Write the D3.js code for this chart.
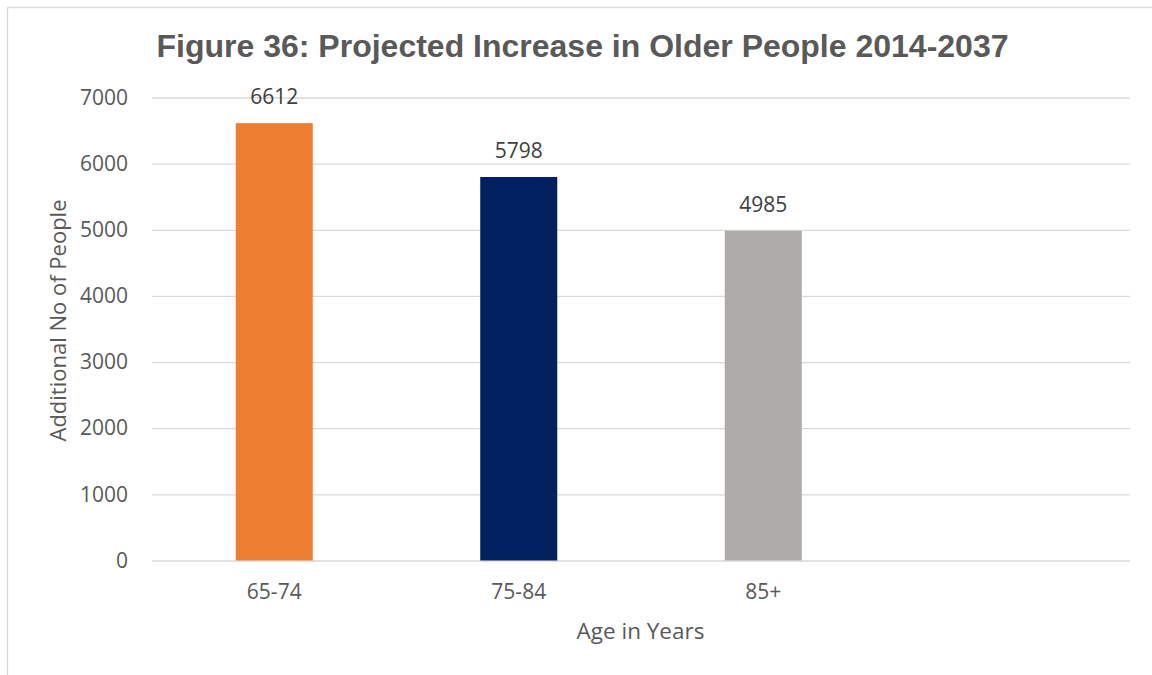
<!DOCTYPE html>
<html><head><meta charset="utf-8">
<script src="https://cdn.jsdelivr.net/npm/d3@7"></script>
<style>body{margin:0;background:#fff}svg{display:block}</style>
</head><body>
<svg id="c" width="1152" height="675"></svg>
<script>
const categories = ["65-74", "75-84", "85+", ""];
const values = [6612, 5798, 4985, null];
const colors = ["#ED7D31", "#002060", "#AEAAAA", "#ffffff"];
const yTicks = [0, 1000, 2000, 3000, 4000, 5000, 6000, 7000];
const titleText = "Figure 36: Projected Increase in Older People 2014-2037";
const xTitle = "Age in Years";
const yTitle = "Additional No of People";

const svg = d3.select("#c");
const plotLeft = 152, plotRight = 1130, plotTop = 97.5, plotBottom = 560.5;

// chart border (left and top visible)
svg.append("path").attr("d", "M7.5,675 V7.5 H1152").attr("fill", "none").attr("stroke", "#d9d9d9").attr("stroke-width", 1.3);

const x = d3.scaleBand().domain(categories).range([plotLeft, plotRight]).paddingInner(0.685).paddingOuter(0.3425);
const y = d3.scaleLinear().domain([0, 7000]).range([plotBottom, plotTop]);

const tickFont = "'Open Sans', sans-serif";
const tickSize = "21px";

// gridlines
const yAxis = d3.axisLeft(y).tickValues(yTicks).tickSize(-(plotRight - plotLeft)).tickPadding(24).tickFormat(d3.format("d"));
const gy = svg.append("g").attr("transform", `translate(${plotLeft},0)`).call(yAxis);
gy.select(".domain").remove();
gy.selectAll(".tick line").attr("stroke", "#d9d9d9").attr("stroke-width", 1.3);
gy.selectAll(".tick text").attr("fill", "#595959").style("font-family", tickFont).style("font-size", tickSize);

// x axis labels
const xAxis = d3.axisBottom(x).tickSize(0).tickPadding(24);
const gx = svg.append("g").attr("transform", `translate(0,${plotBottom})`).call(xAxis);
gx.select(".domain").remove();
gx.selectAll(".tick text").attr("fill", "#595959").style("font-family", tickFont).style("font-size", tickSize);

// bars
const data = categories.map((c, i) => ({c, v: values[i], col: colors[i]})).filter(d => d.v != null);
svg.append("g").selectAll("rect").data(data).join("rect")
  .attr("x", d => x(d.c)).attr("width", x.bandwidth())
  .attr("y", d => y(d.v)).attr("height", d => y(0) - y(d.v))
  .attr("fill", d => d.col);

// data labels
svg.append("g").selectAll("text").data(data).join("text")
  .attr("x", d => x(d.c) + x.bandwidth() / 2).attr("y", d => y(d.v) - 19)
  .attr("text-anchor", "middle").attr("fill", "#404040")
  .style("font-family", tickFont).style("font-size", tickSize)
  .text(d => d.v);

// title
svg.append("text").attr("x", 582.5).attr("y", 57).attr("text-anchor", "middle")
  .attr("fill", "#595959").style("font-family", "'Liberation Sans', Arial, sans-serif")
  .style("font-weight", "bold").style("font-size", "32px").text(titleText);

// axis titles
svg.append("text").attr("x", 640.5).attr("y", 639).attr("text-anchor", "middle")
  .attr("fill", "#595959").style("font-family", tickFont).style("font-size", "22.5px").text(xTitle);
svg.append("text").attr("transform", "translate(66,320.5) rotate(-90)").attr("text-anchor", "middle")
  .attr("fill", "#595959").style("font-family", tickFont).style("font-size", "22px").text(yTitle);
</script>
</body></html>
